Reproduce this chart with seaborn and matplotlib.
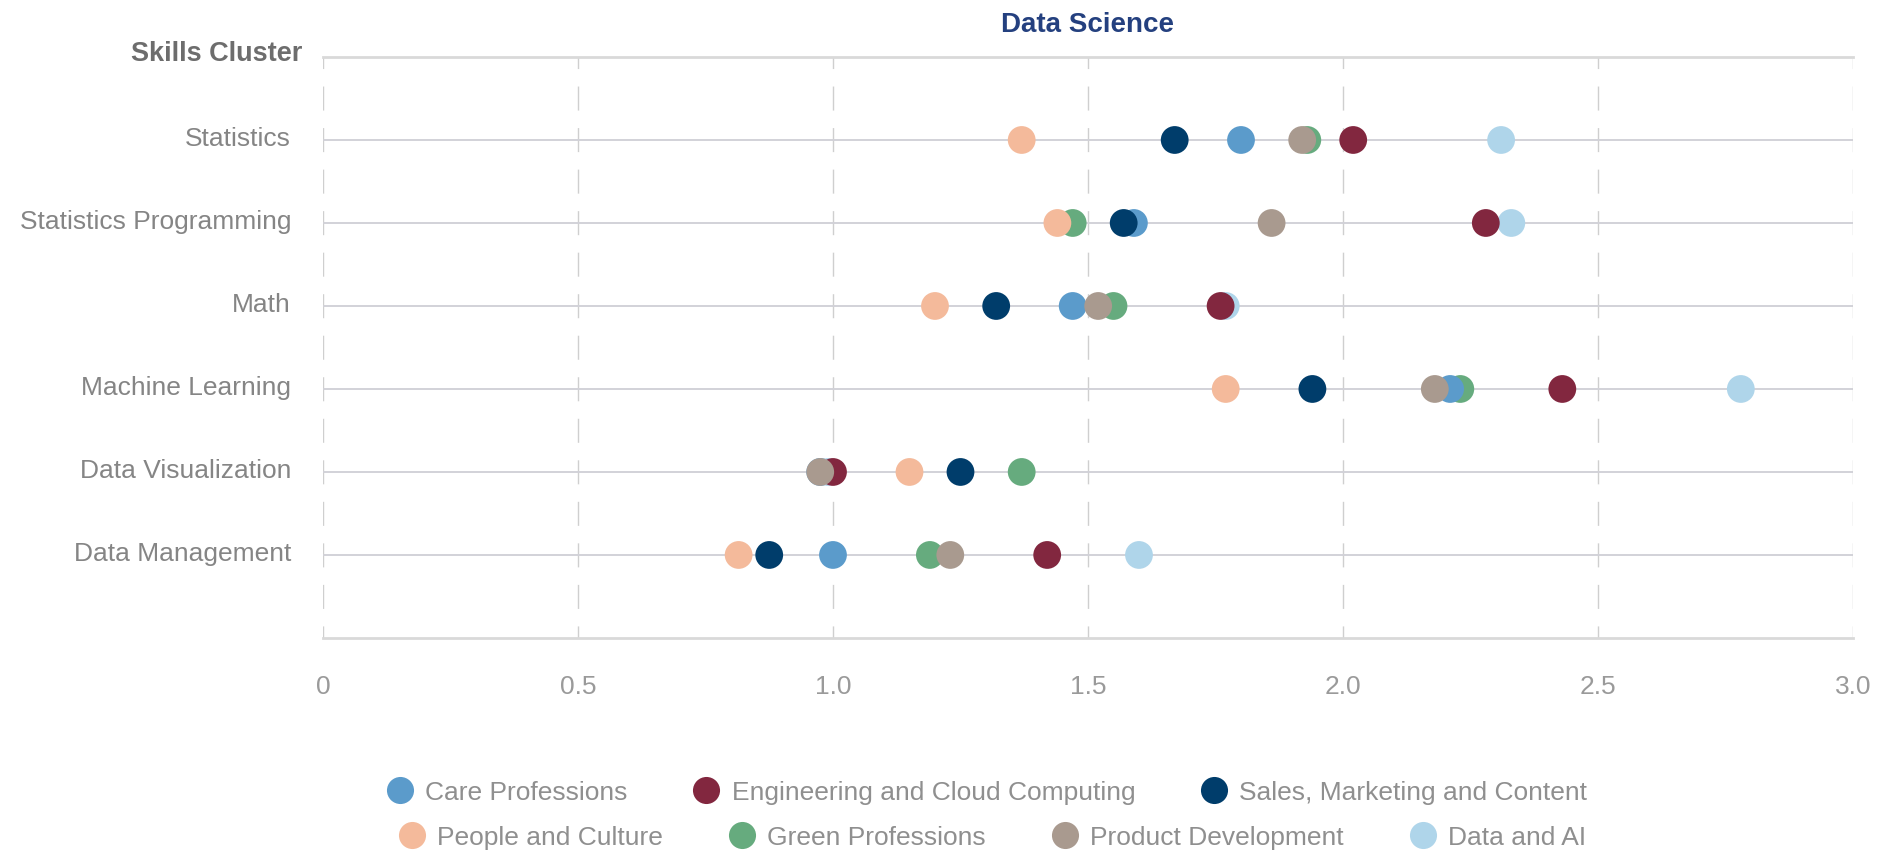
import pandas as pd
import matplotlib.pyplot as plt
import seaborn as sns
from matplotlib.lines import Line2D
from matplotlib.transforms import ScaledTranslation

# skills (rows, top to bottom)
skills = ["Statistics", "Statistics Programming", "Math", "Machine Learning",
          "Data Visualization", "Data Management"]

# average values per cluster, one per skill
care = [1.80, 1.59, 1.47, 2.21, 0.975, 1.00]
engineering = [2.02, 2.28, 1.76, 2.43, 1.00, 1.42]
sales = [1.67, 1.57, 1.32, 1.94, 1.25, 0.875]
people = [1.37, 1.44, 1.20, 1.77, 1.15, 0.815]
green = [1.93, 1.47, 1.55, 2.23, 1.37, 1.19]
product = [1.92, 1.86, 1.52, 2.18, 0.975, 1.23]
data_ai = [2.31, 2.33, 1.77, 2.78, 0.99, 1.60]

clusters = ["Care Professions", "Engineering and Cloud Computing", "Sales, Marketing and Content",
            "People and Culture", "Green Professions", "Product Development", "Data and AI"]
colors = ["#5B9BCB", "#82273F", "#003D6B", "#F4BA9B", "#66AB7E", "#A99A8F", "#AFD5EA"]
palette = dict(zip(clusters, colors))

values = {
    "Care Professions": care,
    "Engineering and Cloud Computing": engineering,
    "Sales, Marketing and Content": sales,
    "People and Culture": people,
    "Green Professions": green,
    "Product Development": product,
    "Data and AI": data_ai,
}

# order the dots are drawn in (last one ends up on top)
draw_order = ["Green Professions", "Care Professions", "Data and AI",
              "Engineering and Cloud Computing", "Sales, Marketing and Content",
              "People and Culture", "Product Development"]

rows = []
for c in draw_order:
    for i, sk in enumerate(skills):
        rows.append({"skill": sk, "pos": i, "cluster": c, "value": values[c][i]})
df = pd.DataFrame(rows)

sns.set_style("white")
plt.rcParams['font.family'] = ['Liberation Sans', 'DejaVu Sans']

fig = plt.figure(figsize=(18.92, 8.54), dpi=100)
ax = fig.add_axes([0.1707, 0.2518, 0.8087, 0.6803])

sns.scatterplot(data=df, x="value", y="pos", hue="cluster", palette=palette,
                s=400, linewidth=0, alpha=1, legend=False, ax=ax, zorder=3)

ax.set_xlim(0, 3)
ax.set_ylim(6, -1)
ax.set_xticks([0, 0.5, 1.0, 1.5, 2.0, 2.5, 3.0])
ax.set_xticklabels(["0", "0.5", "1.0", "1.5", "2.0", "2.5", "3.0"])
ax.set_yticks(range(len(skills)))
ax.set_yticklabels(skills)
ax.set_xlabel("")
ax.set_ylabel("")

# vertical dashed lines, horizontal row lines
ax.grid(axis='x', color='#cfcfcf', linewidth=1.0, linestyle=(8.6, (17.3, 12.6)))
ax.grid(axis='y', color='#d2d2d8', linewidth=1.4, linestyle='-')
ax.set_axisbelow(True)

for side in ['left', 'right']:
    ax.spines[side].set_visible(False)
for side in ['top', 'bottom']:
    ax.spines[side].set_color('#d9d9d9')
    ax.spines[side].set_linewidth(2.0)

ax.tick_params(axis='x', length=0, pad=26, labelsize=19, labelcolor='#9a9a9a')
ax.tick_params(axis='y', length=0, pad=23, labelsize=19, labelcolor='#858585')
# nudge the row labels up a little
for lab in ax.get_yticklabels():
    lab.set_transform(lab.get_transform() + ScaledTranslation(0, 3 / 72, fig.dpi_scale_trans))

ax.set_title("Data Science", fontsize=20, fontweight='bold', color='#24407F', pad=19)
fig.text(0.1596, 0.937, "Skills Cluster", ha='right', va='center', fontsize=19.5,
         fontweight='bold', color='#6d6d6d')

# legend in two rows, like the original
handles = [Line2D([], [], marker='o', linestyle='', markersize=19.5,
                  markerfacecolor=palette[c], markeredgewidth=0) for c in clusters]
leg_kw = dict(frameon=False, fontsize=19, labelcolor='#8f8f8f', handletextpad=0.35,
              columnspacing=2.4, handlelength=1.2, borderaxespad=0, borderpad=0)
leg1 = fig.legend(handles[:3], clusters[:3], ncol=3, loc='center',
                  bbox_to_anchor=(0.521, 0.071), **leg_kw)
leg2 = fig.legend(handles[3:], clusters[3:], ncol=4, loc='center',
                  bbox_to_anchor=(0.524, 0.019), **leg_kw)

plt.savefig("out.png", dpi=100)
